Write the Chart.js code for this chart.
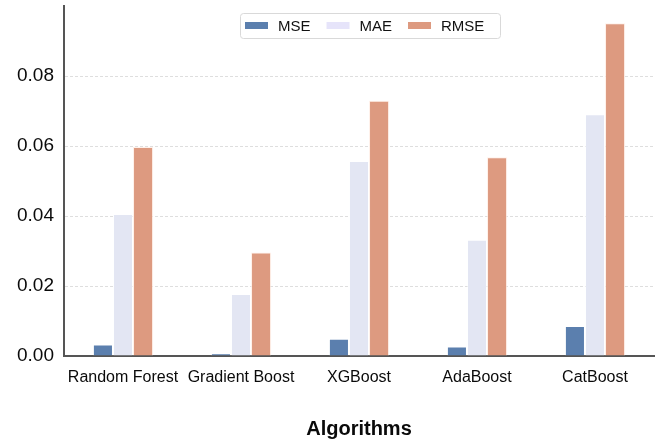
<!DOCTYPE html>
<html>
<head>
<meta charset="utf-8">
<script src="https://cdn.jsdelivr.net/npm/chart.js@4/dist/chart.umd.min.js"></script>
<style>
  html, body { margin: 0; padding: 0; background: #fff; }
  #wrap { width: 659px; height: 441px; position: relative; }
</style>
</head>
<body>
<div id="wrap"><canvas id="errChart"></canvas></div>
<script>
// データ
const algorithms = ['Random Forest', 'Gradient Boost', 'XGBoost', 'AdaBoost', 'CatBoost'];
const mseValues = [0.0033, 0.0008, 0.0049, 0.0027, 0.0086];
const maeValues = [0.0406, 0.0177, 0.0557, 0.0332, 0.0691];
const rmseValues = [0.0597, 0.0296, 0.0729, 0.0568, 0.0951];
const yTickStep = 0.02;

const FONT = "'Liberation Sans', Arial, sans-serif";

// 凡例（グラフ内の上部中央に描く）
const boxLegend = {
  id: 'boxLegend',
  afterDraw(chart) {
    const ctx = chart.ctx;
    const sets = chart.data.datasets;
    ctx.save();
    ctx.font = '15px ' + FONT;
    const sw = 23, gap = 10, itemGap = 16, padX = 5;
    const left = 240, top = 13, h = 25, boxW = 260;
    ctx.fillStyle = '#fff';
    ctx.strokeStyle = '#d9d9d9';
    ctx.lineWidth = 1;
    ctx.beginPath();
    ctx.roundRect(left + 0.5, top + 0.5, boxW, h, 3);
    ctx.fill();
    ctx.stroke();
    let x = left + padX;
    const cy = top + h / 2;
    sets.forEach(ds => {
      ctx.fillStyle = ds.legendColor || ds.backgroundColor;
      ctx.fillRect(x, cy - 3.5, sw, 7);
      x += sw + gap;
      ctx.fillStyle = '#111';
      ctx.textBaseline = 'middle';
      ctx.fillText(ds.label, x, cy + 1);
      x += ctx.measureText(ds.label).width + itemGap;
    });
    ctx.restore();
  }
};

const barStyle = {
  borderWidth: 1,
  borderSkipped: 'bottom',
  categoryPercentage: 0.51,
  barPercentage: 1.0
};

new Chart(document.getElementById('errChart'), {
  type: 'bar',
  data: {
    labels: algorithms,
    datasets: [{
      label: 'MSE',
      data: mseValues,
      backgroundColor: '#5b7fae',
      borderColor: 'rgba(255,255,255,0.35)',
      ...barStyle
    }, {
      label: 'MAE',
      data: maeValues,
      backgroundColor: '#e3e6f3',
      legendColor: '#e6e4fa',
      borderColor: 'rgba(255,255,255,0.5)',
      ...barStyle
    }, {
      label: 'RMSE',
      data: rmseValues,
      backgroundColor: '#dd9a80',
      borderColor: 'rgba(255,235,225,0.7)',
      ...barStyle
    }]
  },
  options: {
    responsive: true,
    maintainAspectRatio: false,
    animation: false,
    layout: { padding: { top: 6, right: 5, left: 0, bottom: 0 } },
    plugins: {
      legend: { display: false },
      tooltip: { enabled: false }
    },
    scales: {
      x: {
        offset: true,
        grid: { color: 'rgba(0,0,0,0)', drawTicks: false },
        border: { display: true, color: '#555', width: 2 },
        ticks: {
          color: '#0a0a0a',
          font: { family: FONT, size: 16 },
          padding: 12,
          maxRotation: 0,
          autoSkip: false
        },
        title: {
          display: true,
          text: 'Algorithms',
          color: '#0a0a0a',
          font: { family: FONT, size: 20, weight: 'bold' },
          padding: { top: 0, bottom: 0 }
        },
        afterFit(s) {
          s.height = 85;
          s.paddingLeft = 0;
          s.paddingRight = 0;
        }
      },
      y: {
        min: 0,
        max: 0.1,
        grid: {
          drawTicks: false,
          lineWidth: 1,
          color: c => (c.tick && c.tick.value === 0) ? 'rgba(0,0,0,0)' : '#dedede'
        },
        border: { display: true, color: '#555', width: 2, dash: [3, 2] },
        ticks: {
          stepSize: yTickStep,
          color: '#0a0a0a',
          font: { family: FONT, size: 19 },
          padding: 10,
          callback: v => v.toFixed(2)
        },
        afterBuildTicks(s) {
          s.ticks = s.ticks.filter(t => t.value < 0.0995);
        },
        afterFit(s) {
          s.width = 64;
          s.paddingTop = 0;
          s.paddingBottom = 0;
        }
      }
    }
  },
  plugins: [boxLegend]
});
</script>
</body>
</html>
